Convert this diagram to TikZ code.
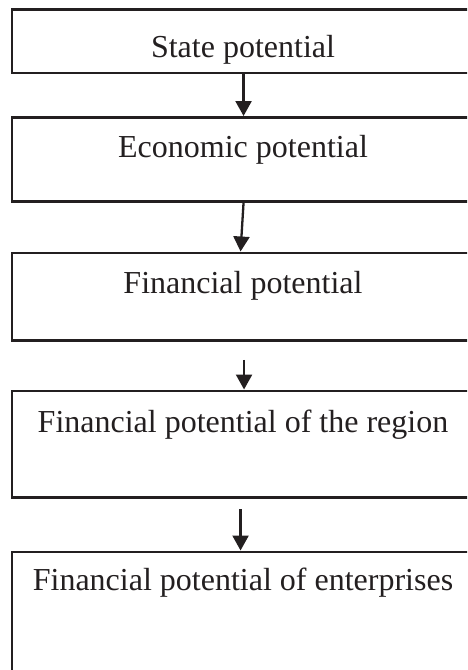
\documentclass[tikz,border=0pt]{standalone}
\usepackage{fontspec}
\setmainfont{Liberation Serif}
\usetikzlibrary{arrows.meta}
\definecolor{ink}{RGB}{35,31,32}
\begin{document}
\begin{tikzpicture}[x=1pt,y=-1pt,
  boxstyle/.style={draw=ink, line width=2.6pt, minimum width=465.5pt, inner sep=0pt, anchor=north west},
  lbl/.style={font=\fontsize{32}{38}\selectfont, text=ink, anchor=base, inner sep=0pt},
  arr/.style={draw=ink, line width=2.3pt, -{Triangle[width=16pt,length=15pt]}}]
\clip (0,0) rectangle (467,670);
\fill[white] (0,0) rectangle (467,670);
\node[boxstyle, minimum height=63.5pt] (b1) at (10.5,8) {};
\node[boxstyle, minimum height=84pt] (b2) at (10.5,116) {};
\node[boxstyle, minimum height=87.8pt] (b3) at (10.5,251.5) {};
\node[boxstyle, minimum height=106.5pt] (b4) at (10.5,389.5) {};
\node[boxstyle, minimum height=150pt] (b5) at (10.5,550.5) {};
\node[lbl] (t1) at (243,57) {State potential};
\node[lbl] (t2) at (243,157) {Economic potential};
\node[lbl] (t3) at (243,293) {Financial potential};
\node[lbl] (t4) at (243,432) {Financial potential of the region};
\node[lbl] (t5) at (243,590) {Financial potential of enterprises};
\draw[arr] ([xshift=-1pt]b1.south) -- ([xshift=-1pt]b2.north);
\draw[arr] ([xshift=-1pt]b2.south) -- ([xshift=-4pt]b3.north);
\draw[arr] ([xshift=-0.5pt,yshift=-18pt]b3.south) -- ([xshift=-0.5pt]b4.north);
\draw[arr] ([xshift=-4pt,yshift=-10.7pt]b4.south) -- ([xshift=-4pt]b5.north);
\end{tikzpicture}
\end{document}
